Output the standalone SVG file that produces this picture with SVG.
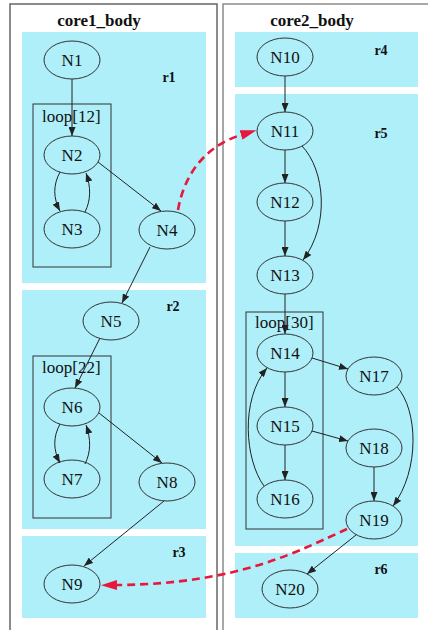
<svg xmlns="http://www.w3.org/2000/svg" width="428" height="630" viewBox="0 0 428 630">
<style>
.bg{fill:#ffffff}
.cluster{fill:#ffffff;stroke:#8a8a8a;stroke-width:1.5}
.region{fill:#aeeff9;stroke:none}
.loop{fill:none;stroke:#333;stroke-width:1}
.node ellipse{fill:none;stroke:#333;stroke-width:1}
.nl{font-family:"Liberation Serif","Times New Roman",serif;font-size:17px;fill:#111;text-anchor:middle}
.ll{font-family:"Liberation Serif","Times New Roman",serif;font-size:17px;fill:#111}
.rl{font-family:"Liberation Serif","Times New Roman",serif;font-size:14px;font-weight:bold;fill:#111;text-anchor:middle}
.ct{font-family:"Liberation Serif","Times New Roman",serif;font-size:17px;font-weight:bold;fill:#111;text-anchor:middle}
.e{fill:none;stroke:#222;stroke-width:1;marker-end:url(#ah)}
.x{fill:none;stroke:#e8173c;stroke-width:2.6;stroke-dasharray:8,5;marker-end:url(#rh)}
</style>
<defs>
<marker id="ah" markerUnits="userSpaceOnUse" markerWidth="9" markerHeight="7" refX="9" refY="3.5" orient="auto"><path d="M0,0 L9,3.5 L0,7 z" fill="#222"/></marker>
<marker id="rh" markerUnits="userSpaceOnUse" markerWidth="16" markerHeight="10" refX="0" refY="5" orient="auto"><path d="M0,0 L16,5 L0,10 z" fill="#e8173c"/></marker>
</defs>
<rect class="bg" x="0" y="0" width="428" height="630"/>
<g id="core1_body">
<rect class="cluster" x="10" y="4" width="207" height="640" style="stroke:#666"/>
<text class="ct" x="99" y="26">core1_body</text>
</g>
<g id="core2_body">
<rect class="cluster" x="223" y="4" width="215" height="640"/>
<text class="ct" x="312" y="26">core2_body</text>
</g>
<g id="r1"><rect class="region" x="22" y="32" width="184" height="251"/><text class="rl" x="169" y="82">r1</text></g>
<g id="r2"><rect class="region" x="22" y="290" width="184" height="239"/><text class="rl" x="173" y="311">r2</text></g>
<g id="r3"><rect class="region" x="22" y="536" width="184" height="82"/><text class="rl" x="179" y="557">r3</text></g>
<g id="r4"><rect class="region" x="235" y="32" width="183" height="55"/><text class="rl" x="381" y="55">r4</text></g>
<g id="r5"><rect class="region" x="235" y="94" width="183" height="452"/><text class="rl" x="381" y="138">r5</text></g>
<g id="r6"><rect class="region" x="235" y="553" width="183" height="65"/><text class="rl" x="381" y="574">r6</text></g>
<g id="loop12"><rect class="loop" x="33" y="104" width="78" height="163"/><text class="ll" x="42" y="122">loop[12]</text></g>
<g id="loop22"><rect class="loop" x="33" y="356" width="78" height="162"/><text class="ll" x="42" y="373">loop[22]</text></g>
<g id="loop30"><rect class="loop" x="246" y="312" width="77" height="217"/><text class="ll" x="255" y="328">loop[30]</text></g>
<g id="N1" class="node"><ellipse cx="72" cy="60" rx="28" ry="19"/><text class="nl" x="72" y="66">N1</text></g>
<g id="N2" class="node"><ellipse cx="72" cy="155" rx="28" ry="19"/><text class="nl" x="72" y="161">N2</text></g>
<g id="N3" class="node"><ellipse cx="72" cy="229" rx="28" ry="19"/><text class="nl" x="72" y="235">N3</text></g>
<g id="N4" class="node"><ellipse cx="167" cy="230" rx="28" ry="19"/><text class="nl" x="167" y="236">N4</text></g>
<g id="N5" class="node"><ellipse cx="111" cy="321" rx="28" ry="19"/><text class="nl" x="111" y="327">N5</text></g>
<g id="N6" class="node"><ellipse cx="72" cy="407" rx="28" ry="19"/><text class="nl" x="72" y="413">N6</text></g>
<g id="N7" class="node"><ellipse cx="72" cy="479" rx="28" ry="19"/><text class="nl" x="72" y="485">N7</text></g>
<g id="N8" class="node"><ellipse cx="167" cy="482" rx="28" ry="19"/><text class="nl" x="167" y="488">N8</text></g>
<g id="N9" class="node"><ellipse cx="72" cy="584" rx="28" ry="19"/><text class="nl" x="72" y="590">N9</text></g>
<g id="N10" class="node"><ellipse cx="285" cy="57" rx="28" ry="19"/><text class="nl" x="285" y="63">N10</text></g>
<g id="N11" class="node"><ellipse cx="285" cy="131" rx="28" ry="19"/><text class="nl" x="285" y="137">N11</text></g>
<g id="N12" class="node"><ellipse cx="285" cy="202" rx="28" ry="19"/><text class="nl" x="285" y="208">N12</text></g>
<g id="N13" class="node"><ellipse cx="285" cy="275" rx="28" ry="19"/><text class="nl" x="285" y="281">N13</text></g>
<g id="N14" class="node"><ellipse cx="285" cy="353" rx="28" ry="19"/><text class="nl" x="285" y="359">N14</text></g>
<g id="N15" class="node"><ellipse cx="285" cy="426" rx="28" ry="19"/><text class="nl" x="285" y="432">N15</text></g>
<g id="N16" class="node"><ellipse cx="285" cy="499" rx="28" ry="19"/><text class="nl" x="285" y="505">N16</text></g>
<g id="N17" class="node"><ellipse cx="374" cy="376" rx="28" ry="19"/><text class="nl" x="374" y="382">N17</text></g>
<g id="N18" class="node"><ellipse cx="374" cy="448" rx="28" ry="19"/><text class="nl" x="374" y="454">N18</text></g>
<g id="N19" class="node"><ellipse cx="374" cy="520" rx="28" ry="19"/><text class="nl" x="374" y="526">N19</text></g>
<g id="N20" class="node"><ellipse cx="290" cy="589" rx="28" ry="19"/><text class="nl" x="290" y="595">N20</text></g>
<g id="connectors">
<path class="e" d="M72,79 L72,136"/>
<path class="e" d="M60,172 C53,185 53,198 60,211"/>
<path class="e" d="M85,212 C91,200 91,187 86,173"/>
<path class="e" d="M98,162 L161,211"/>
<path class="e" d="M150,247 L122,303"/>
<path class="e" d="M100,338 L75,388"/>
<path class="e" d="M60,424 C53,437 53,450 60,463"/>
<path class="e" d="M85,464 C91,452 91,439 86,425"/>
<path class="e" d="M99,413 L162,463"/>
<path class="e" d="M164,501 L84,566"/>
<path class="e" d="M285,76 L285,112"/>
<path class="e" d="M285,150 L285,183"/>
<path class="e" d="M302,146 C325,170 330,225 303,260"/>
<path class="e" d="M285,221 L285,256"/>
<path class="e" d="M285,294 L285,334"/>
<path class="e" d="M285,372 L285,407"/>
<path class="e" d="M285,445 L285,480"/>
<path class="e" d="M264,486 C245,460 240,400 267,368"/>
<path class="e" d="M312,358 L348,369"/>
<path class="e" d="M312,431 L348,441"/>
<path class="e" d="M397,387 C418,410 420,470 393,506"/>
<path class="e" d="M374,467 L374,501"/>
<path class="e" d="M356,535 L307,574"/>
<path class="x" d="M178,210 C184,175 205,146 241,135"/>
<path class="x" d="M347,529 C300,550 240,584 117,585"/>
</g>
</svg>
